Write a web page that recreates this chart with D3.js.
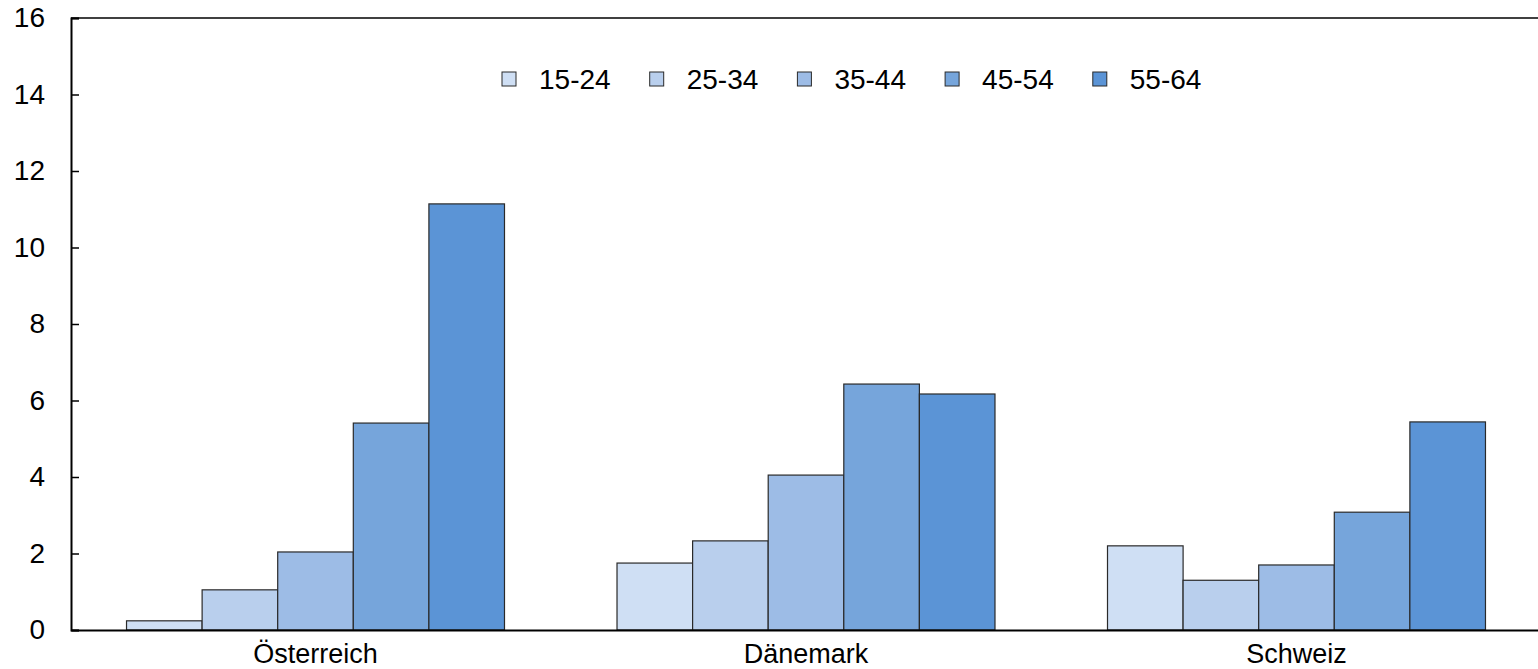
<!DOCTYPE html>
<html><head><meta charset="utf-8">
<script src="https://cdn.jsdelivr.net/npm/d3@7"></script>
<style>body{margin:0;background:#fff}svg{display:block}text{font-family:"Liberation Sans",Arial,sans-serif;fill:#000}</style>
</head><body>
<svg id="c" width="1538" height="669"></svg>
<script>
const categories = ["Österreich", "Dänemark", "Schweiz"];
const seriesNames = ["15-24", "25-34", "35-44", "45-54", "55-64"];
const v1524 = [0.24, 1.75, 2.2];
const v2534 = [1.05, 2.33, 1.3];
const v3544 = [2.04, 4.05, 1.7];
const v4554 = [5.41, 6.43, 3.08];
const v5564 = [11.14, 6.17, 5.44];
const yTicks = [0, 2, 4, 6, 8, 10, 12, 14, 16];
const colors = ["#cfdff4", "#b9cfed", "#9dbce6", "#76a5db", "#5b94d6"];

const series = [v1524, v2534, v3544, v4554, v5564];
const svg = d3.select("#c");
const L = 71, R = 1538, T = 18, B = 630;
const x0 = d3.scaleBand().domain(categories).range([L, 1541]).paddingInner(0.2294).paddingOuter(0.1132);
const x1 = d3.scaleBand().domain(seriesNames).range([0, x0.bandwidth()]);
const y = d3.scaleLinear().domain([0, 16]).range([B, T]);

// top border
svg.append("line").attr("x1", L).attr("x2", R).attr("y1", T).attr("y2", T).attr("stroke", "#000").attr("stroke-width", 1.5);

// bars
const g = svg.append("g");
categories.forEach((c, ci) => {
  series.forEach((s, si) => {
    g.append("rect")
      .attr("x", x0(c) + x1(seriesNames[si]))
      .attr("y", y(s[ci]))
      .attr("width", x1.bandwidth())
      .attr("height", y(0) - y(s[ci]))
      .attr("fill", colors[si])
      .attr("stroke", "#2a2a2a").attr("stroke-width", 1.2);
  });
});

// y axis
const ya = svg.append("g").attr("transform", `translate(${L},0)`)
  .call(d3.axisLeft(y).tickValues(yTicks).tickSize(-8).tickPadding(26).tickFormat(d3.format("d")));
ya.select(".domain").attr("stroke", "#000").attr("stroke-width", 2);
ya.selectAll(".tick line").attr("stroke", "#000").attr("stroke-width", 1.5);
ya.selectAll(".tick text").style("font-size", "28px").attr("font-family", "Liberation Sans, Arial, sans-serif");

// x axis
const xa = svg.append("g").attr("transform", `translate(0,${B})`)
  .call(d3.axisBottom(x0).tickSize(0).tickPadding(14));
xa.select(".domain").attr("stroke", "#000").attr("stroke-width", 2);
xa.selectAll(".tick text").style("font-size", "27px").attr("font-family", "Liberation Sans, Arial, sans-serif");

// legend
const lg = svg.append("g");
seriesNames.forEach((n, i) => {
  const lx = 502 + i * 147.7;
  lg.append("rect").attr("x", lx).attr("y", 72).attr("width", 14).attr("height", 14)
    .attr("fill", colors[i]).attr("stroke", "#2a2a2a").attr("stroke-width", 1);
  lg.append("text").attr("x", lx + 37).attr("y", 79).attr("dy", "0.35em")
    .style("font-size", "28px").text(n);
});
</script>
</body></html>
